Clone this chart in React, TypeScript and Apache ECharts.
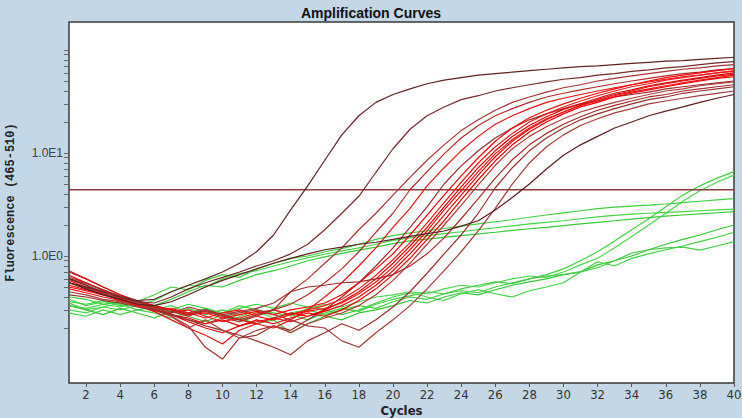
import React, { useEffect, useRef } from "react";
import * as echarts from "echarts";

// Cycle numbers (x)
const cycles = [1, 2, 3, 4, 5, 6, 7, 8, 9, 10, 11, 12, 13, 14, 15, 16, 17, 18, 19, 20,
  21, 22, 23, 24, 25, 26, 27, 28, 29, 30, 31, 32, 33, 34, 35, 36, 37, 38, 39, 40];

const xTickLabels = [2, 4, 6, 8, 10, 12, 14, 16, 18, 20, 22, 24, 26, 28, 30, 32, 34, 36, 38, 40];
const yLabelValues = [1, 10];
const yTickValues = [0.2, 0.3, 0.4, 0.5, 0.6, 0.7, 0.8, 0.9, 1, 2, 3, 4, 5, 6, 7, 8, 9, 10,
  20, 30, 40, 50, 60, 70, 80, 90, 100];

const THRESHOLD = 4.4;

// Green (negative / late) curves
const g1 = [0.36, 0.34, 0.37, 0.33, 0.36, 0.42, 0.5, 0.47, 0.58, 0.66, 0.62, 0.75, 0.85, 0.95, 1.0, 1.1, 1.18, 1.3, 1.45, 1.58,
  1.68, 1.76, 1.85, 1.95, 2.05, 2.15, 2.25, 2.38, 2.5, 2.62, 2.75, 2.88, 2.98, 3.05, 3.12, 3.2, 3.3, 3.4, 3.5, 3.6];
const g2 = [0.33, 0.3, 0.32, 0.35, 0.33, 0.37, 0.45, 0.52, 0.5, 0.6, 0.68, 0.72, 0.8, 0.88, 0.96, 1.04, 1.12, 1.2, 1.3, 1.42,
  1.5, 1.58, 1.65, 1.72, 1.8, 1.88, 1.96, 2.05, 2.12, 2.2, 2.3, 2.4, 2.48, 2.55, 2.6, 2.65, 2.7, 2.75, 2.8, 2.85];
const g3 = [0.4, 0.38, 0.34, 0.36, 0.34, 0.33, 0.38, 0.45, 0.52, 0.5, 0.58, 0.66, 0.72, 0.8, 0.9, 0.98, 1.06, 1.14, 1.22, 1.32,
  1.4, 1.46, 1.52, 1.58, 1.64, 1.7, 1.77, 1.84, 1.9, 1.97, 2.05, 2.12, 2.2, 2.28, 2.36, 2.44, 2.5, 2.56, 2.63, 2.7];
const l1 = [0.38, 0.33, 0.36, 0.34, 0.3, 0.32, 0.28, 0.31, 0.27, 0.3, 0.26, 0.29, 0.25, 0.28, 0.3, 0.27, 0.3, 0.33, 0.31, 0.36,
  0.4, 0.38, 0.43, 0.46, 0.44, 0.5, 0.55, 0.6, 0.66, 0.75, 0.9, 1.1, 1.4, 1.8, 2.3, 3.0, 3.9, 4.8, 5.7, 6.6];
const l2 = [0.3, 0.28, 0.32, 0.3, 0.33, 0.3, 0.33, 0.28, 0.31, 0.28, 0.33, 0.3, 0.28, 0.26, 0.31, 0.34, 0.32, 0.36, 0.4, 0.42,
  0.45, 0.43, 0.48, 0.52, 0.5, 0.55, 0.6, 0.64, 0.62, 0.7, 0.82, 0.95, 1.2, 1.55, 2.0, 2.6, 3.4, 4.3, 5.2, 6.1];
const l3 = [0.35, 0.3, 0.27, 0.31, 0.28, 0.25, 0.29, 0.26, 0.23, 0.27, 0.25, 0.22, 0.24, 0.18, 0.22, 0.26, 0.24, 0.28, 0.3, 0.33,
  0.37, 0.35, 0.4, 0.44, 0.42, 0.47, 0.52, 0.56, 0.6, 0.66, 0.7, 0.82, 0.9, 1.0, 1.15, 1.3, 1.45, 1.6, 1.8, 2.0];
const l4 = [0.28, 0.26, 0.3, 0.27, 0.3, 0.28, 0.25, 0.28, 0.3, 0.26, 0.23, 0.27, 0.3, 0.27, 0.24, 0.28, 0.31, 0.29, 0.34, 0.38,
  0.41, 0.45, 0.43, 0.48, 0.52, 0.56, 0.54, 0.6, 0.64, 0.66, 0.7, 0.77, 0.9, 1.07, 1.15, 1.2, 1.22, 1.14, 1.25, 1.38];
const l5 = [0.33, 0.31, 0.34, 0.32, 0.35, 0.33, 0.3, 0.34, 0.31, 0.28, 0.31, 0.34, 0.31, 0.35, 0.32, 0.3, 0.27, 0.3, 0.35, 0.4,
  0.44, 0.4, 0.37, 0.43, 0.47, 0.43, 0.4, 0.46, 0.5, 0.55, 0.7, 0.88, 0.8, 0.95, 1.05, 1.15, 1.25, 1.38, 1.52, 1.7];

// Red (positive) curves
const r1 = [0.72, 0.6, 0.5, 0.42, 0.37, 0.33, 0.3, 0.28, 0.3, 0.27, 0.29, 0.31, 0.35, 0.45, 0.6, 0.85, 1.2, 1.8, 2.6, 3.9,
  5.8, 8.5, 12, 16.5, 21, 26, 31, 35, 39, 43, 46, 50, 53, 56, 59, 62, 65, 67, 70, 72];
const r2 = [0.62, 0.55, 0.47, 0.4, 0.36, 0.31, 0.27, 0.24, 0.22, 0.25, 0.23, 0.26, 0.3, 0.34, 0.42, 0.55, 0.75, 1.1, 1.7, 2.6,
  4.4, 6.6, 9.8, 14, 18.5, 23, 27, 31, 35, 38, 41, 44, 47, 50, 53, 56, 59, 61, 64, 66];
const r3 = [0.55, 0.5, 0.44, 0.38, 0.33, 0.29, 0.24, 0.2, 0.17, 0.14, 0.19, 0.22, 0.2, 0.24, 0.3, 0.4, 0.55, 0.8, 1.2, 1.9,
  2.9, 4.8, 7.2, 10.5, 14.5, 19, 23, 27, 31, 34, 37, 40, 43, 46, 49, 52, 55, 57, 60, 62];
const r4 = [0.6, 0.52, 0.43, 0.37, 0.33, 0.3, 0.26, 0.21, 0.13, 0.1, 0.16, 0.17, 0.21, 0.19, 0.24, 0.3, 0.4, 0.55, 0.8, 1.2,
  1.9, 3.0, 5.0, 7.5, 10.5, 14, 17.5, 21, 24, 27, 30, 32, 35, 37, 39, 42, 44, 46, 48, 50];
const r5 = [0.5, 0.46, 0.42, 0.38, 0.34, 0.32, 0.3, 0.27, 0.28, 0.25, 0.27, 0.29, 0.27, 0.3, 0.32, 0.35, 0.42, 0.55, 0.75, 1.05,
  1.6, 2.5, 3.9, 6.0, 9.0, 13, 17.5, 22, 26, 30, 34, 38, 42, 46, 50, 54, 57, 60, 63, 66];
const r6 = [0.58, 0.5, 0.44, 0.36, 0.33, 0.3, 0.28, 0.3, 0.26, 0.23, 0.25, 0.28, 0.3, 0.27, 0.3, 0.33, 0.38, 0.48, 0.65, 0.92,
  1.35, 2.1, 3.3, 5.2, 8.0, 11.5, 15.5, 20, 24, 28, 32, 36, 40, 44, 47, 51, 54, 57, 60, 63];
const r7 = [0.65, 0.55, 0.46, 0.39, 0.35, 0.31, 0.27, 0.25, 0.22, 0.24, 0.21, 0.23, 0.25, 0.28, 0.26, 0.3, 0.36, 0.45, 0.6, 0.85,
  1.25, 1.9, 3.0, 4.7, 7.2, 10.5, 14.5, 18.5, 22.5, 26.5, 30, 34, 38, 41, 45, 48, 51, 54, 57, 60];
const r8 = [0.48, 0.44, 0.4, 0.37, 0.33, 0.29, 0.31, 0.28, 0.25, 0.28, 0.3, 0.26, 0.24, 0.27, 0.29, 0.31, 0.35, 0.43, 0.56, 0.78,
  1.15, 1.75, 2.8, 4.3, 6.6, 9.8, 13.5, 17.5, 21.5, 25, 29, 32, 36, 39, 42, 45, 48, 51, 54, 57];
const r9 = [0.7, 0.6, 0.5, 0.42, 0.36, 0.33, 0.3, 0.27, 0.29, 0.26, 0.24, 0.22, 0.25, 0.23, 0.26, 0.29, 0.33, 0.4, 0.52, 0.72,
  1.05, 1.6, 2.5, 3.9, 6.1, 9.2, 13, 17, 21, 25, 29, 33, 37, 40, 44, 47, 50, 53, 56, 58];
const r10 = [0.52, 0.47, 0.43, 0.38, 0.34, 0.31, 0.27, 0.23, 0.2, 0.18, 0.21, 0.24, 0.22, 0.25, 0.28, 0.26, 0.3, 0.37, 0.48, 0.66,
  0.95, 1.45, 2.2, 3.5, 5.5, 8.4, 12, 16, 20, 24, 28, 31, 35, 38, 41, 44, 47, 50, 53, 55];
const r11 = [0.45, 0.42, 0.38, 0.36, 0.34, 0.3, 0.26, 0.2, 0.24, 0.19, 0.16, 0.19, 0.21, 0.18, 0.22, 0.25, 0.28, 0.33, 0.42, 0.58,
  0.85, 1.3, 2.0, 3.1, 4.9, 7.6, 11, 14.5, 18, 21.5, 25, 28, 31, 34, 37, 40, 42, 45, 47, 49];
const r12 = [0.6, 0.54, 0.47, 0.41, 0.36, 0.32, 0.29, 0.26, 0.3, 0.27, 0.24, 0.27, 0.3, 0.45, 0.5, 0.52, 0.55, 0.56, 0.6, 0.66,
  0.8, 1.05, 1.5, 2.3, 3.6, 5.7, 8.6, 12, 15.5, 19, 22.5, 26, 29, 32, 35, 37, 40, 42, 44, 46];
const r13 = [0.42, 0.4, 0.37, 0.35, 0.32, 0.3, 0.27, 0.24, 0.21, 0.19, 0.17, 0.15, 0.13, 0.11, 0.15, 0.18, 0.22, 0.19, 0.24, 0.32,
  0.45, 0.68, 1.05, 1.6, 2.6, 4.6, 7.2, 10.5, 14, 17.5, 21, 24, 27, 30, 33, 35, 38, 40, 42, 44];
const r14 = [0.55, 0.49, 0.43, 0.39, 0.35, 0.31, 0.28, 0.32, 0.29, 0.26, 0.28, 0.3, 0.27, 0.24, 0.21, 0.2, 0.15, 0.13, 0.18, 0.24,
  0.33, 0.48, 0.72, 1.1, 1.75, 2.9, 5.0, 8.0, 11.5, 15, 18.5, 21.5, 24.5, 27, 30, 32, 34, 36, 38, 40];

// Dark brown (early / late) curves
const b1 = [0.55, 0.5, 0.45, 0.4, 0.37, 0.38, 0.45, 0.52, 0.6, 0.7, 0.85, 1.1, 1.6, 2.8, 4.8, 8.5, 15, 23, 31, 37,
  42, 47, 51, 54, 57, 59, 61, 63, 65, 67, 69, 70, 72, 74, 76, 78, 79, 81, 83, 85];
const b2 = [0.6, 0.52, 0.45, 0.4, 0.36, 0.35, 0.4, 0.48, 0.55, 0.62, 0.7, 0.8, 0.9, 1.05, 1.3, 1.8, 2.6, 3.8, 6.5, 11,
  17, 23, 28, 33, 36, 40, 43, 46, 49, 52, 54, 57, 59, 62, 64, 67, 69, 72, 75, 77];
const b3 = [0.55, 0.48, 0.42, 0.38, 0.34, 0.33, 0.36, 0.42, 0.5, 0.58, 0.66, 0.75, 0.85, 0.95, 1.05, 1.15, 1.22, 1.3, 1.36, 1.45,
  1.55, 1.65, 1.75, 1.95, 2.2, 2.8, 3.7, 5.0, 7.0, 9.5, 12, 14.5, 17.5, 20, 23, 25.5, 28, 31, 34, 37];

const greenCurves = [g1, g2, g3, l1, l2, l3, l4, l5];
const greenColors = ["#3fcf3f", "#45d445", "#38c838", "#40d040", "#4ad64a", "#35c435", "#44cc44", "#3dd23d"];
const redCurves = [r1, r2, r3, r4, r5, r6, r7, r8, r9, r10, r11, r12, r13, r14];
const redColors = ["#a83232", "#b22a2a", "#e81010", "#9e2b2b", "#ff0000", "#f01818", "#e00000", "#ff1010",
  "#d81010", "#ee0000", "#b03a3a", "#a52a2a", "#983030", "#a33a3a"];
const brownCurves = [b1, b2, b3];
const brownColors = ["#5e2222", "#742a2a", "#5a1e1e"];

function toPoints(vals: number[]) {
  return cycles.map((c, i) => [c, vals[i]]);
}

export default function App() {
  const ref = useRef<HTMLDivElement>(null);
  useEffect(() => {
    if (!ref.current) return;
    const chart = echarts.init(ref.current, undefined, { renderer: "svg" });
    const lineSeries = (vals: number[], color: string, z: number) => ({
      type: "line",
      data: toPoints(vals),
      showSymbol: false,
      symbol: "none",
      z,
      lineStyle: { color, width: 1.2 },
      silent: true,
    });
    const series: any[] = [];
    greenCurves.forEach((v, i) => series.push(lineSeries(v, greenColors[i], 2)));
    series.push({
      type: "line",
      data: [[cycles[0], THRESHOLD], [cycles[cycles.length - 1], THRESHOLD]],
      symbol: "none",
      z: 3,
      lineStyle: { color: "#8b3c3c", width: 1.5 },
      silent: true,
    });
    redCurves.forEach((v, i) => series.push(lineSeries(v, redColors[i], 4)));
    brownCurves.forEach((v, i) => series.push(lineSeries(v, brownColors[i], 5)));

    chart.setOption({
      animation: false,
      backgroundColor: "#c3d7e7",
      title: {
        text: "Amplification Curves",
        left: "center",
        top: 1,
        textStyle: { fontFamily: "Liberation Sans", fontWeight: "bold", fontSize: 14, color: "#111" },
      },
      grid: {
        left: 69, top: 22, right: 8, bottom: 35,
        show: true, backgroundColor: "#ffffff", borderColor: "#3a3a3a", borderWidth: 1.5,
        outerBoundsMode: "none",
      },
      xAxis: {
        type: "value",
        min: 1,
        max: 40,
        name: "Cycles",
        nameLocation: "middle",
        nameGap: 21,
        nameMoveOverlap: false,
        nameTextStyle: {
          fontFamily: "'Liberation Sans Narrow', 'DejaVu Sans Condensed', sans-serif",
          fontWeight: "bold", fontSize: 13, color: "#222",
        },
        axisLine: { show: false },
        splitLine: { show: false },
        axisTick: { show: true, length: 4, lineStyle: { color: "#555" }, customValues: xTickLabels },
        axisLabel: {
          customValues: xTickLabels,
          margin: 5,
          fontFamily: "'Liberation Sans Narrow', 'DejaVu Sans Condensed', sans-serif",
          fontSize: 13,
          color: "#333",
        },
      },
      yAxis: {
        type: "log",
        logBase: 10,
        min: 0.0585,
        max: 187,
        name: "Fluorescence (465-510)",
        nameLocation: "middle",
        nameGap: 52,
        nameMoveOverlap: false,
        nameTextStyle: { fontFamily: "Liberation Mono", fontWeight: "bold", fontSize: 12, color: "#222" },
        axisLine: { show: false },
        splitLine: { show: false },
        minorTick: { show: false },
        axisTick: { show: true, length: 5, lineStyle: { color: "#666" }, customValues: yTickValues },
        axisLabel: {
          customValues: yLabelValues,
          margin: 6,
          fontFamily: "Liberation Sans",
          fontSize: 12,
          color: "#404040",
          formatter: (v: number) => "1.0E" + Math.round(Math.log10(v)),
        },
      },
      series,
    });
    return () => chart.dispose();
  }, []);
  return <div ref={ref} style={{ position: "absolute", left: 0, top: 0, width: 742, height: 418 }} />;
}
